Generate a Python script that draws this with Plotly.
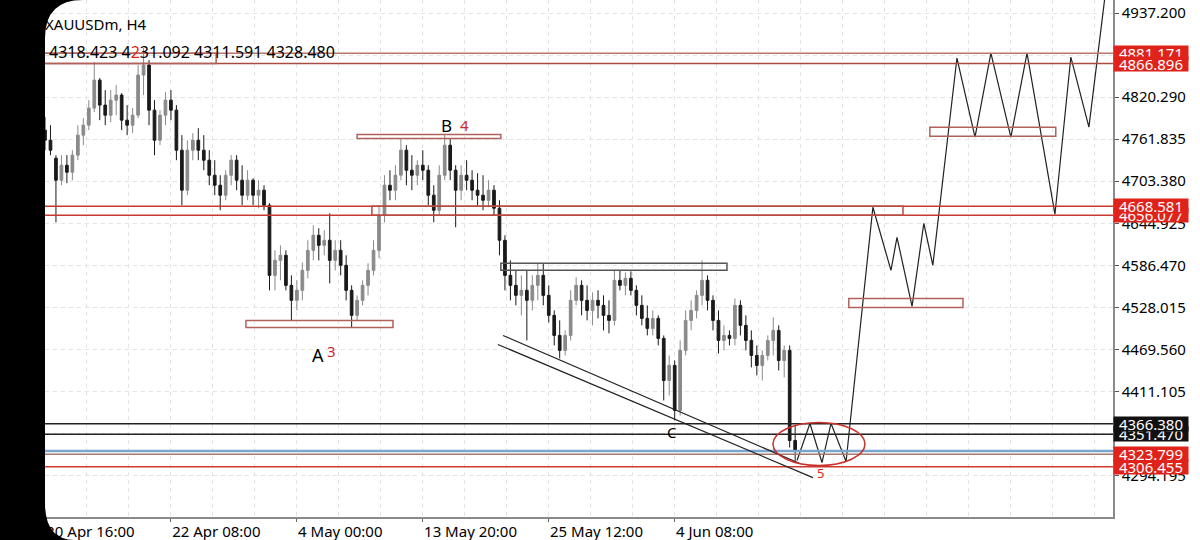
import plotly.graph_objects as go

# XAUUSDm H4 - one candle per two H4 bars
time_labels = ["20 Apr 16:00", "22 Apr 08:00", "4 May 00:00",
               "13 May 20:00", "25 May 12:00", "4 Jun 08:00"]
label_bars = [0, 46, 92, 138, 184, 230]

opens = [4774.4, 4760.4, 4735.4, 4704.8, 4725.6, 4715.9, 4739.6, 4767.4, 4781.3, 4805.0,
         4843.9, 4809.2, 4795.2, 4816.1, 4823.1, 4788.3, 4781.3, 4795.2, 4850.9, 4864.8,
         4802.2, 4760.4, 4795.2, 4816.1, 4802.2, 4746.5, 4690.9, 4746.5, 4760.4, 4746.5,
         4732.6, 4711.7, 4697.8, 4683.9, 4711.7, 4732.6, 4704.8, 4683.9, 4704.8, 4683.9,
         4690.9, 4670.0, 4572.5, 4593.4, 4600.4, 4558.6, 4537.8, 4551.7, 4579.5, 4607.3,
         4628.2, 4614.3, 4621.3, 4593.4, 4607.3, 4586.5, 4551.7, 4516.9, 4537.8, 4558.6,
         4579.5, 4607.3, 4656.1, 4697.8, 4690.9, 4711.7, 4746.5, 4718.7, 4711.7, 4725.6,
         4718.7, 4683.9, 4663.0, 4711.7, 4753.5, 4718.7, 4690.9, 4711.7, 4704.8, 4690.9,
         4683.9, 4676.9, 4690.9, 4665.8, 4621.3, 4572.5, 4558.6, 4544.7, 4551.7, 4537.8,
         4558.6, 4572.5, 4544.7, 4516.9, 4489.0, 4468.2, 4489.0, 4537.8, 4558.6, 4537.8,
         4523.8, 4537.8, 4530.8, 4516.9, 4509.9, 4565.6, 4558.6, 4568.4, 4551.7, 4530.8,
         4512.7, 4498.8, 4512.7, 4484.9, 4426.4, 4447.3, 4384.7, 4468.2, 4509.9, 4523.8,
         4544.7, 4565.6, 4537.8, 4509.9, 4482.1, 4489.0, 4484.9, 4530.8, 4503.0, 4482.1,
         4461.2, 4447.3, 4461.2, 4482.1, 4496.0, 4454.2, 4468.2, 4342.9]
highs = [4792.5, 4781.3, 4739.6, 4739.6, 4739.6, 4746.5, 4781.3, 4791.1, 4816.1, 4869.0,
         4846.7, 4830.0, 4830.0, 4837.0, 4825.9, 4809.2, 4805.0, 4864.8, 4888.5, 4871.8,
         4816.1, 4802.2, 4827.2, 4830.0, 4809.2, 4767.4, 4760.4, 4770.2, 4777.1, 4767.4,
         4746.5, 4732.6, 4711.7, 4718.7, 4739.6, 4739.6, 4725.6, 4718.7, 4707.5, 4704.8,
         4697.8, 4672.8, 4607.3, 4614.3, 4607.3, 4572.5, 4565.6, 4590.6, 4621.3, 4642.1,
         4638.0, 4635.2, 4658.8, 4621.3, 4621.3, 4600.4, 4558.6, 4544.7, 4565.6, 4589.3,
         4621.3, 4670.0, 4711.7, 4718.7, 4725.6, 4763.2, 4753.5, 4739.6, 4732.6, 4746.5,
         4725.6, 4697.8, 4725.6, 4767.4, 4763.2, 4725.6, 4725.6, 4732.6, 4718.7, 4714.5,
         4711.7, 4704.8, 4697.8, 4676.9, 4628.2, 4593.4, 4579.5, 4572.5, 4579.5, 4572.5,
         4589.3, 4589.3, 4558.6, 4523.8, 4509.9, 4496.0, 4551.7, 4569.8, 4565.6, 4558.6,
         4548.9, 4551.7, 4544.7, 4537.8, 4579.5, 4579.5, 4576.7, 4578.1, 4558.6, 4544.7,
         4530.8, 4523.8, 4516.9, 4489.0, 4461.2, 4454.2, 4482.1, 4523.8, 4537.8, 4551.7,
         4593.4, 4572.5, 4544.7, 4523.8, 4503.0, 4496.0, 4540.5, 4537.8, 4516.9, 4496.0,
         4475.1, 4468.2, 4489.0, 4514.1, 4503.0, 4475.1, 4475.1, 4363.8]
lows = [4746.5, 4739.6, 4646.3, 4697.8, 4700.6, 4704.8, 4732.6, 4753.5, 4774.4, 4799.4,
        4788.3, 4781.3, 4785.5, 4795.2, 4774.4, 4767.4, 4770.2, 4791.1, 4823.1, 4781.3,
        4739.6, 4753.5, 4781.3, 4788.3, 4732.6, 4670.0, 4683.9, 4732.6, 4732.6, 4718.7,
        4697.8, 4683.9, 4663.0, 4676.9, 4697.8, 4690.9, 4670.0, 4676.9, 4670.0, 4665.8,
        4663.0, 4551.7, 4551.7, 4565.6, 4551.7, 4509.9, 4523.8, 4537.8, 4568.4, 4593.4,
        4593.4, 4600.4, 4561.4, 4579.5, 4572.5, 4537.8, 4500.2, 4509.9, 4530.8, 4544.7,
        4572.5, 4596.2, 4646.3, 4676.9, 4676.9, 4704.8, 4697.8, 4690.9, 4697.8, 4704.8,
        4670.0, 4646.3, 4656.1, 4704.8, 4704.8, 4639.4, 4676.9, 4690.9, 4676.9, 4670.0,
        4663.0, 4667.2, 4656.1, 4600.4, 4551.7, 4537.8, 4530.8, 4516.9, 4482.1, 4523.8,
        4537.8, 4530.8, 4507.1, 4475.1, 4457.0, 4461.2, 4482.1, 4530.8, 4516.9, 4509.9,
        4503.0, 4512.7, 4496.0, 4491.8, 4503.0, 4551.7, 4544.7, 4544.7, 4516.9, 4503.0,
        4489.0, 4489.0, 4475.1, 4398.6, 4405.5, 4370.7, 4377.7, 4461.2, 4496.0, 4512.7,
        4530.8, 4523.8, 4496.0, 4464.0, 4468.2, 4475.1, 4475.1, 4489.0, 4468.2, 4444.5,
        4433.4, 4426.4, 4454.2, 4461.2, 4440.3, 4430.6, 4333.2, 4311.6]
closes = [4760.4, 4746.5, 4704.8, 4725.6, 4715.9, 4739.6, 4767.4, 4781.3, 4805.0, 4843.9,
          4809.2, 4795.2, 4816.1, 4823.1, 4788.3, 4781.3, 4795.2, 4850.9, 4864.8, 4802.2,
          4760.4, 4795.2, 4816.1, 4802.2, 4746.5, 4690.9, 4746.5, 4760.4, 4746.5, 4732.6,
          4711.7, 4697.8, 4683.9, 4711.7, 4732.6, 4704.8, 4683.9, 4704.8, 4683.9, 4690.9,
          4670.0, 4572.5, 4593.4, 4600.4, 4558.6, 4537.8, 4551.7, 4579.5, 4607.3, 4628.2,
          4614.3, 4621.3, 4593.4, 4607.3, 4586.5, 4551.7, 4516.9, 4537.8, 4558.6, 4579.5,
          4607.3, 4656.1, 4697.8, 4690.9, 4711.7, 4746.5, 4718.7, 4711.7, 4725.6, 4718.7,
          4683.9, 4663.0, 4711.7, 4753.5, 4718.7, 4690.9, 4711.7, 4704.8, 4690.9, 4683.9,
          4676.9, 4690.9, 4665.8, 4621.3, 4572.5, 4558.6, 4544.7, 4551.7, 4537.8, 4558.6,
          4572.5, 4544.7, 4516.9, 4489.0, 4468.2, 4489.0, 4537.8, 4558.6, 4537.8, 4523.8,
          4537.8, 4530.8, 4516.9, 4509.9, 4565.6, 4558.6, 4568.4, 4551.7, 4530.8, 4512.7,
          4498.8, 4512.7, 4484.9, 4426.4, 4447.3, 4384.7, 4468.2, 4509.9, 4523.8, 4544.7,
          4565.6, 4537.8, 4509.9, 4482.1, 4489.0, 4484.9, 4530.8, 4503.0, 4482.1, 4461.2,
          4447.3, 4461.2, 4482.1, 4496.0, 4454.2, 4468.2, 4342.9, 4328.48]

# hand drawn projection (bar index, price)
proj_bars = [274.7, 279.4, 283.8, 287.1, 292.6, 302.4, 309.0, 311.2, 316.7, 321.0,
             324.3, 333.1, 339.7, 345.5, 352.8, 358.7, 368.9, 374.7, 381.3, 387.1]
proj_price = [4315.1, 4366.6, 4312.3, 4366.6, 4313.7, 4667.2, 4579.5, 4625.4, 4529.4, 4644.9,
              4586.5, 4874.6, 4764.6, 4881.5, 4764.6, 4881.5, 4657.4, 4876.0, 4778.5, 4958.0]

# horizontal levels with price tags on the right
levels = [4881.171, 4866.896, 4656.077, 4668.581, 4351.470, 4366.380, 4306.455, 4323.799]
level_line = ["#b8766c", "#a84c42", "#c8382e", "#c8382e", "#222222", "#222222", "#cc3a2e", "#a8786c"]
level_tag = ["#e0231a", "#e0231a", "#e0231a", "#e0231a", "#111111", "#111111", "#e0231a", "#e0231a"]
bid = 4328.480

header = "4318.423 4<span style='color:#e0231a'>2</span>31.092 4311.591 4328.480"

bar_idx = [2 * i for i in range(len(opens))]
FONT = "Noto Sans"
BROWN = "#b0625a"

fig = go.Figure()
fig.add_trace(go.Candlestick(
    x=bar_idx, open=opens, high=highs, low=lows, close=closes,
    increasing=dict(line=dict(color="#8a8a8a", width=1), fillcolor="#8a8a8a"),
    decreasing=dict(line=dict(color="#1a1a1a", width=1), fillcolor="#1a1a1a"),
    whiskerwidth=0, showlegend=False, hoverinfo="skip"))
fig.add_trace(go.Scatter(x=proj_bars, y=proj_price, mode="lines",
                         line=dict(color="#222222", width=1.2),
                         showlegend=False, hoverinfo="skip"))

shapes = []
for p, c in zip(levels, level_line):
    shapes.append(dict(type="line", xref="paper", x0=0, x1=1, yref="y", y0=p, y1=p,
                       line=dict(color=c, width=1.5), layer="above"))
shapes.append(dict(type="line", xref="paper", x0=0, x1=1, yref="y", y0=bid, y1=bid,
                   line=dict(color="#78a6cf", width=2.5), layer="above"))

# zones / drawings
rects = [(-10, 62.5, 4866.896, 4881.171, BROWN),
         (114.0, 166.5, 4762.9, 4768.4, BROWN),
         (73.4, 127.1, 4500.2, 4509.9, BROWN),
         (119.4, 313.4, 4656.077, 4668.581, "#b84a40"),
         (166.5, 249.1, 4579.5, 4589.3, "#555555"),
         (293.6, 335.3, 4528.0, 4540.5, BROWN),
         (323.2, 369.2, 4766.0, 4778.5, BROWN)]
for x0, x1, y0, y1, c in rects:
    shapes.append(dict(type="rect", x0=x0, x1=x1, y0=y0, y1=y1,
                       line=dict(color=c, width=1.5), layer="above"))
shapes.append(dict(type="line", x0=167.3, y0=4489.0, x1=275.7, y1=4310.9,
                   line=dict(color="#222222", width=1.2), layer="above"))
shapes.append(dict(type="line", x0=165.4, y0=4476.5, x1=280.5, y1=4291.4,
                   line=dict(color="#222222", width=1.2), layer="above"))
shapes.append(dict(type="circle", x0=265.9, x1=299.5, y0=4308.1, y1=4368.0,
                   line=dict(color="#c8302c", width=1.5), layer="above"))
# phone screen edge on the left
shapes.append(dict(type="path", xref="paper", yref="paper", fillcolor="black",
                   line=dict(width=0), layer="above",
                   path="M -0.05,1.02 L 0.0356,1.02 L 0.0356,1.0 Q 0,1.0 0,0.9265 "
                        "L 0,0.0271 Q 0,-0.0445 0.0281,-0.0445 L 0.0281,-0.07 L -0.05,-0.07 Z"))

ann = [dict(text="XAUUSDm, H4", x=-0.002, y=0.977, xref="paper", yref="paper",
            xanchor="left", showarrow=False, font=dict(size=15, color="black", family=FONT)),
       dict(text=header, x=0.002, y=0.924, xref="paper", yref="paper",
            xanchor="left", showarrow=False, font=dict(size=16, color="black", family=FONT))]
for p, c in zip(levels, level_tag):
    ann.append(dict(text=f"{p:.3f}", x=1, xref="paper", xanchor="left", y=p, yref="y",
                    showarrow=False, bgcolor=c, width=74, height=14, borderpad=0,
                    font=dict(size=15, color="white", family=FONT)))
marks = [("A", 99.7, 4461.2, "black", 18), ("3", 104.5, 4466.7, "#d0281e", 15),
         ("B", 146.5, 4781.4, "black", 17), ("4", 153.4, 4781.4, "#d0281e", 15),
         ("C", 229.0, 4355.4, "black", 15), ("5", 283.1, 4298.4, "#d0281e", 13)]
for t, x, y, c, s in marks:
    ann.append(dict(text=t, x=x, y=y, showarrow=False,
                    font=dict(size=s, color=c, family=FONT)))

fig.update_layout(
    width=1200, height=540,
    margin=dict(l=45, r=87, t=0, b=23),
    paper_bgcolor="white", plot_bgcolor="white",
    shapes=shapes, annotations=ann, showlegend=False,
    font=dict(family=FONT, color="black"),
)
fig.update_xaxes(
    range=[0, 390.1], rangeslider=dict(visible=False),
    tickmode="array", tickvals=label_bars, ticktext=time_labels,
    ticklabelposition="outside right", ticks="outside", ticklen=3, tickcolor="#666",
    tickfont=dict(size=15, color="black"),
    showline=True, linecolor="#8a8a8a", linewidth=1.5,
    showgrid=True, gridcolor="#e4e4e4", griddash="4px,4px",
    minor=dict(tickmode="linear", tick0=0, dtick=46 / 3, showgrid=True,
               gridcolor="#e4e4e4", griddash="4px,4px", ticks=""),
    zeroline=False,
)
fig.update_yaxes(
    side="right", range=[4236.6, 4955.3],
    tickmode="linear", tick0=4937.2, dtick=58.455, tickformat=".3f",
    ticks="outside", ticklen=4, tickcolor="#555",
    tickfont=dict(size=15, color="black"),
    showline=True, linecolor="#8a8a8a", linewidth=1.5,
    showgrid=True, gridcolor="#e4e4e4", griddash="4px,4px", zeroline=False,
)

# screenshot has no page margin around the chart
fig.write_html("out.html", config={"displayModeBar": False},
               post_script="document.body.style.margin='0';")
